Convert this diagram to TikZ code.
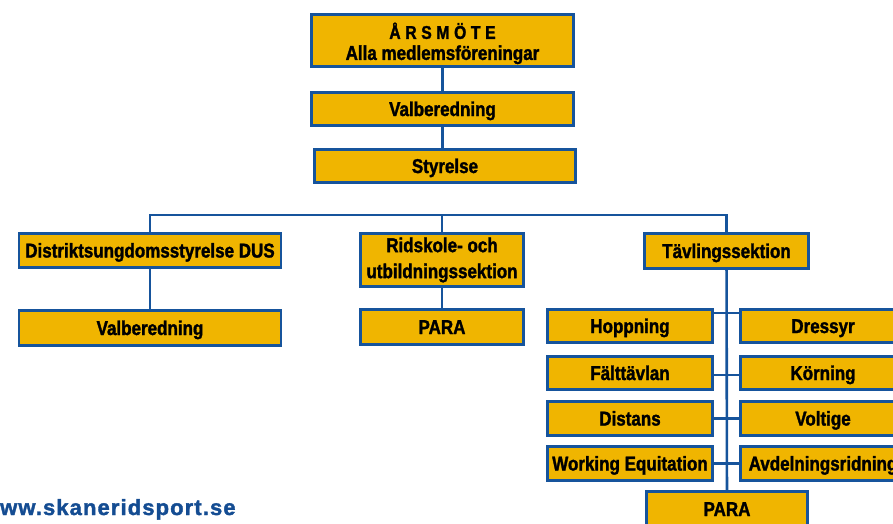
\documentclass[tikz,border=0pt]{standalone}
\usepackage{fontspec}
\setmainfont{Liberation Sans}[FakeStretch=0.85,BoldFeatures={FakeBold=1.6}]
\newfontfamily\webfont{Liberation Sans}[LetterSpace=5,BoldFeatures={FakeBold=1.6}]
\definecolor{boxgold}{RGB}{240,181,0}
\definecolor{orgblue}{RGB}{22,84,156}
\definecolor{webblue}{RGB}{20,76,146}

\begin{document}
\begin{tikzpicture}[x=1pt,y=-1pt,
		box/.style={draw=orgblue,line width=2.6pt,fill=boxgold,font=\bfseries\fontsize{20}{26}\selectfont,align=center,inner sep=0pt},
		onebox/.style={box,text height=14pt,text depth=0pt},
		conn/.style={draw=orgblue,line width=2.6pt}]
		\useasboundingbox (0,0) rectangle (893,523);
		\node[box,minimum width=262pt,minimum height=52pt,font=\bfseries\fontsize{20}{21}\selectfont] (arsmote) at (442.5,40.5) {\rule{0pt}{22pt}{\fontsize{18.5}{21}\selectfont\addfontfeature{LetterSpace=25}ÅRSMÖTE}\\Alla medlemsföreningar};
		\node[onebox,minimum width=262pt,minimum height=33pt] (valb) at (442.5,109) {Valberedning};
		\node[onebox,minimum width=261pt,minimum height=33pt] (styr) at (445,166) {Styrelse};
		\node[onebox,minimum width=262pt,minimum height=34pt] (dus) at (150,250.5) {Distriktsungdomsstyrelse DUS};
		\node[onebox,minimum width=262pt,minimum height=35pt] (dusvalb) at (150,328) {Valberedning};
		\node[box,minimum width=163pt,minimum height=53pt] (ridsk) at (442,260) {Ridskole- och\\utbildningssektion};
		\node[onebox,minimum width=163pt,minimum height=35pt] (para1) at (442,327) {PARA};
		\node[onebox,minimum width=164pt,minimum height=35pt] (tavl) at (726.5,251) {Tävlingssektion};
		\node[onebox,minimum width=165pt,minimum height=33pt] (hopp) at (630,326) {Hoppning};
		\node[onebox,minimum width=165pt,minimum height=33pt] (dress) at (823,326) {Dressyr};
		\node[onebox,minimum width=165pt,minimum height=33pt] (falt) at (630,373) {Fälttävlan};
		\node[onebox,minimum width=165pt,minimum height=33pt] (korn) at (823,373) {Körning};
		\node[onebox,minimum width=165pt,minimum height=34pt] (dist) at (630,418.5) {Distans};
		\node[onebox,minimum width=165pt,minimum height=34pt] (volt) at (823,418.5) {Voltige};
		\node[onebox,minimum width=165pt,minimum height=34pt] (work) at (630,463.5) {Working Equitation};
		\node[onebox,minimum width=165pt,minimum height=34pt] (avd) at (823,463.5) {Avdelningsridning};
		\node[onebox,minimum width=161pt,minimum height=35pt] (para2) at (727,509) {PARA};
		\node[anchor=base west,inner sep=0pt,text=webblue,font=\webfont\bfseries\fontsize{22}{24}\selectfont] (web) at (0,515) {ww.skaneridsport.se};
		\coordinate (bus) at (0,215);
		\draw[conn] (arsmote) -- (valb);
		\draw[conn] (valb) -- (valb |- styr.north);
		\draw[conn] (dus.north) |- (bus -| tavl.north) -- (tavl.north);
		\draw[conn] (ridsk.north) -- (ridsk.north |- bus);
		\draw[conn] (dus) -- (dusvalb);
		\draw[conn] (ridsk) -- (para1);
		\draw[conn] (tavl) -- (para2);
		\draw[conn] ([yshift=13pt]hopp.east) -- ([yshift=13pt]dress.west);
		\draw[conn] ([yshift=-2pt]falt.east) -- ([yshift=-2pt]korn.west);
		\draw[conn] (dist) -- (volt);
		\draw[conn] (work) -- (avd);
	\end{tikzpicture}
\end{document}
